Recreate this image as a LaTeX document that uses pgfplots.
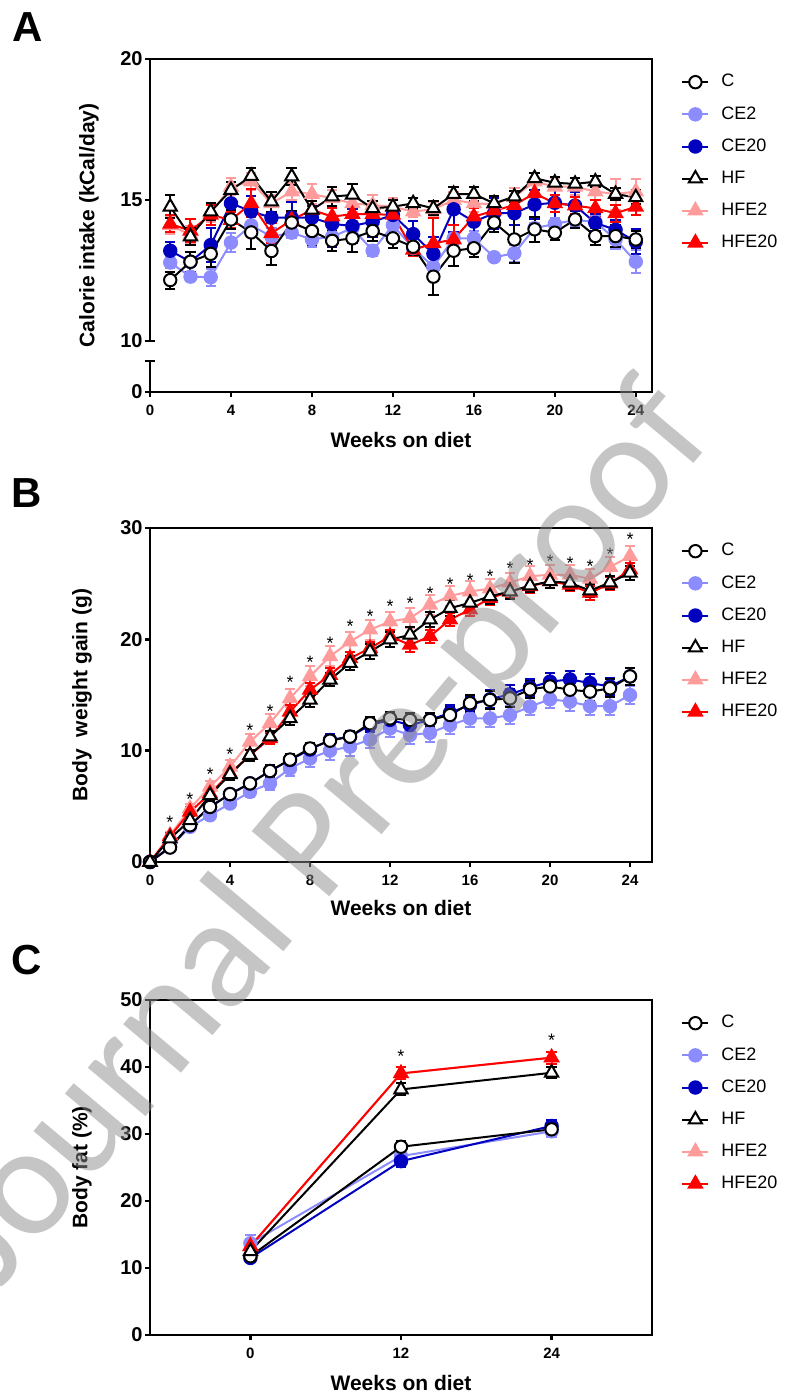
\documentclass[border=0pt]{standalone}
\usepackage{fontspec}
\setmainfont{Liberation Sans}
\newfontfamily\wmfont{Carlito}
\usepackage{pgfplots}
\usepackage{pgfplotstable}
\pgfplotsset{compat=1.18}

\definecolor{cLB}{RGB}{140,140,255}
\definecolor{cDB}{RGB}{0,0,190}
\definecolor{cPK}{RGB}{255,155,155}
\definecolor{cRD}{RGB}{255,0,0}

% calorie intake (kCal/day), mean and error per group
\pgfplotstableread{
w  C     Ce   CEt   CEte CEv   CEve HF    HFe  HFt   HFte HFv   HFve
1  12.16 0.30 12.78 0.20 13.20 0.30 14.76 0.40 14.10 0.30 14.15 0.30
2  12.81 0.35 12.28 0.15 12.81 0.35 13.70 0.30 13.76 0.30 13.91 0.40
3  13.09 0.45 12.26 0.30 13.40 0.60 14.59 0.30 14.53 0.30 14.47 0.35
4  14.31 0.35 13.49 0.35 14.88 0.50 15.35 0.30 15.47 0.30 14.29 0.30
5  13.85 0.60 14.10 0.30 14.60 0.55 15.85 0.30 15.65 0.30 14.88 0.50
6  13.19 0.50 13.70 0.30 14.37 0.55 14.94 0.35 14.88 0.30 13.82 0.35
7  14.20 0.40 13.84 0.20 14.37 0.55 15.83 0.30 15.30 0.30 14.29 0.30
8  13.90 0.50 13.60 0.25 14.37 0.40 14.65 0.30 15.21 0.35 14.65 0.30
9  13.55 0.35 13.70 0.25 14.15 0.80 15.12 0.35 15.06 0.30 14.41 0.30
10 13.64 0.50 14.00 0.25 14.08 0.60 15.18 0.40 14.88 0.30 14.50 0.30
11 13.90 0.35 13.20 0.20 14.23 0.55 14.70 0.25 14.82 0.35 14.50 0.30
12 13.64 0.35 14.11 0.20 14.47 0.25 14.76 0.25 14.76 0.30 14.47 0.30
13 13.34 0.30 13.29 0.20 13.79 0.45 14.88 0.20 14.59 0.20 13.23 0.20
14 12.28 0.65 12.63 0.40 13.09 0.60 14.70 0.25 14.67 0.25 13.46 0.90
15 13.20 0.55 13.64 0.20 14.67 0.80 15.21 0.25 15.00 0.30 13.60 0.50
16 13.29 0.30 13.64 0.25 14.23 0.70 15.21 0.25 14.88 0.30 14.41 0.30
17 14.20 0.35 12.97 0.15 14.53 0.55 14.88 0.25 14.85 0.30 14.62 0.30
18 13.60 0.85 13.11 0.30 14.53 0.40 15.12 0.20 15.12 0.30 14.82 0.30
19 13.96 0.45 14.00 0.20 14.84 0.50 15.77 0.20 15.65 0.30 15.24 0.30
20 13.84 0.25 14.15 0.20 14.90 0.60 15.61 0.20 15.47 0.30 14.88 0.30
21 14.31 0.30 14.29 0.20 14.80 0.50 15.57 0.20 15.47 0.30 14.80 0.30
22 13.72 0.30 14.22 0.20 14.19 0.30 15.65 0.20 15.30 0.30 14.70 0.30
23 13.72 0.40 13.60 0.35 13.94 0.35 15.21 0.20 15.21 0.55 14.53 0.30
24 13.60 0.30 12.81 0.40 13.52 0.45 15.09 0.25 15.30 0.45 14.76 0.30
}\tA

% body weight gain (g)
\pgfplotstableread{
w  C     Ce   CEt   CEte CEv   CEve HF    HFe  HFt   HFte HFv   HFve
0  0     0    0     0    0     0    0     0    0     0    0     0
1  1.30  0.3  1.30  0.3  1.35  0.3  2.10  0.3  2.40  0.3  2.30  0.3
2  3.30  0.4  3.15  0.4  3.30  0.4  3.75  0.4  4.80  0.4  4.50  0.4
3  4.95  0.4  4.20  0.4  4.95  0.4  6.00  0.5  6.76  0.5  6.15  0.5
4  6.10  0.4  5.25  0.4  6.10  0.4  7.87  0.5  8.56  0.6  7.96  0.5
5  7.06  0.4  6.30  0.5  7.06  0.4  9.60  0.5  10.80 0.7  9.60  0.5
6  8.17  0.5  7.06  0.6  8.17  0.5  11.26 0.5  12.46 0.8  11.10 0.5
7  9.20  0.5  8.40  0.7  9.16  0.5  12.90 0.6  14.70 0.8  13.50 0.6
8  10.20 0.5  9.30  0.8  10.10 0.5  14.56 0.6  16.67 0.9  15.46 0.6
9  10.90 0.5  10.00 0.8  10.96 0.5  16.37 0.6  18.47 0.9  16.80 0.6
10 11.26 0.5  10.36 0.8  11.26 0.5  17.87 0.6  19.80 0.9  18.30 0.6
11 12.46 0.6  11.00 0.8  12.30 0.6  18.90 0.7  20.87 0.9  19.20 0.6
12 12.90 0.6  12.00 0.8  12.76 0.6  19.97 0.7  21.60 0.9  20.27 0.6
13 12.76 0.6  11.40 0.8  12.30 0.6  20.40 0.7  21.90 0.9  19.50 0.6
14 12.76 0.6  11.60 0.8  12.76 0.6  21.77 0.7  23.10 0.9  20.27 0.6
15 13.20 0.7  12.30 0.8  13.40 0.7  22.80 0.7  23.90 0.9  21.77 0.6
16 14.26 0.7  12.90 0.8  14.10 0.7  23.27 0.7  24.30 0.9  22.67 0.6
17 14.56 0.8  12.90 0.8  14.62 0.8  23.87 0.7  24.56 0.9  23.70 0.6
18 14.70 0.8  13.20 0.8  15.07 0.8  24.30 0.7  25.10 0.9  24.30 0.6
19 15.50 0.8  13.96 0.8  15.67 0.8  24.83 0.6  25.67 0.9  24.77 0.6
20 15.77 0.8  14.62 0.8  16.20 0.8  25.20 0.6  25.80 0.9  25.20 0.6
21 15.47 0.8  14.40 0.8  16.40 0.8  25.07 0.6  25.80 0.9  24.90 0.6
22 15.30 0.8  14.00 0.8  16.07 0.8  24.38 0.6  25.43 0.9  24.17 0.6
23 15.60 0.8  14.00 0.8  15.77 0.8  25.10 0.6  26.50 0.9  25.00 0.6
24 16.67 0.8  15.00 0.8  16.67 0.8  25.97 0.6  27.47 0.9  26.27 0.6
}\tB

\pgfplotstableread{
w  s
1  3.9
2  6.0
3  8.2
4  10.06
5  12.2
6  13.9
7  16.5
8  18.26
9  20.0
10 21.56
11 22.46
12 23.33
13 23.6
14 24.5
15 25.3
16 25.67
17 26.0
18 26.7
19 27.0
20 27.4
21 27.2
22 26.9
23 28.0
24 29.3
}\sB

% body fat (%)
\pgfplotstableread{
w  C     Ce   CEt   CEte CEv   CEve HF    HFe  HFt   HFte HFv   HFve
0  11.75 0.4  13.70 1.3  11.50 0.5  12.50 0.5  13.25 0.8  13.25 0.8
12 28.10 0.8  26.70 0.9  25.95 0.9  36.65 0.9  39.04 0.9  39.04 0.9
24 30.70 0.8  30.40 0.9  31.20 0.9  39.14 0.8  41.40 0.9  41.40 0.9
}\tC

\pgfplotstableread{
w  s
12 42.2
24 44.6
}\sC

\newcommand{\lblfont}{\bfseries\fontsize{10.5}{12}\selectfont}

\pgfplotsset{
  dat/.style={line width=1pt, mark size=3.1pt,
    error bars/y dir=both, error bars/y explicit,
    error bars/error bar style={line width=1pt, solid},
    error bars/error mark options={rotate=90, mark size=2.6pt, line width=1pt}},
  sC/.style={dat, black, mark=*, mark options={fill=white, solid}},
  sCE2/.style={dat, cLB, mark=*, mark options={solid}},
  sCE20/.style={dat, cDB, mark=*, mark options={solid}},
  sHF/.style={dat, black, mark=triangle*, mark size=3.8pt, mark options={fill=white, solid}},
  sHFE2/.style={dat, cPK, mark=triangle*, mark size=3.8pt, mark options={solid}},
  sHFE20/.style={dat, cRD, mark=triangle*, mark size=3.8pt, mark options={solid}},
  stars/.style={only marks, mark=text, text mark={*}, text mark as node=true,
    text mark style={font=\fontsize{9}{9}\selectfont, inner sep=0pt, yshift=-2pt}, black},
  panel/.style={
    scale only axis, width=251pt, anchor=north west,
    axis line style={line width=1.2pt},
    tick style={line width=1.2pt, black},
    tick align=outside, tick pos=left,
    major tick length=2.5pt,
    /pgf/number format/assume math mode=true,
    yticklabel style={font=\bfseries\fontsize{10}{12}\selectfont, inner sep=1pt},
    xticklabel style={font=\bfseries\fontsize{7.5}{8}\selectfont, inner sep=1pt, yshift=-3pt},
    xlabel={Weeks on diet},
    clip=false,
    legend cell align=left,
    legend image code/.code={\draw[mark repeat=2, mark phase=2, ##1]
      plot coordinates {(0pt,0pt) (6.5pt,0pt) (13pt,0pt)};},
    legend style={at={(axis description cs:1,1)}, anchor=north west,
      xshift=11.5pt, yshift=-3.5pt, draw=none, fill=none,
      font=\fontsize{9}{10}\selectfont, row sep=4.3pt,
      /tikz/every odd column/.append style={column sep=4pt}},
  },
}

\newcommand{\legendsix}{%
  \addlegendimage{sC}\addlegendimage{sCE2}\addlegendimage{sCE20}%
  \addlegendimage{sHF}\addlegendimage{sHFE2}\addlegendimage{sHFE20}%
  \legend{C,CE2,CE20,HF,HFE2,HFE20}}

\newcommand{\sixplots}[1]{%
  \addplot[sCE2, forget plot] table[x=w, y=CEt, y error=CEte] {#1};
  \addplot[sHFE2, forget plot] table[x=w, y=HFt, y error=HFte] {#1};
  \addplot[sCE20, forget plot] table[x=w, y=CEv, y error=CEve] {#1};
  \addplot[sHFE20, forget plot] table[x=w, y=HFv, y error=HFve] {#1};
  \addplot[sC, forget plot] table[x=w, y=C, y error=Ce] {#1};
  \addplot[sHF, forget plot] table[x=w, y=HF, y error=HFe] {#1};}

\begin{document}
\begin{tikzpicture}
\useasboundingbox (0pt,0pt) rectangle (392.5pt,-698pt);

\node[font=\bfseries\fontsize{21}{21}\selectfont] at (14pt,-13.5pt) {A};
\node[font=\bfseries\fontsize{21}{21}\selectfont] at (13.5pt,-246.5pt) {B};
\node[font=\bfseries\fontsize{21}{21}\selectfont] at (13.5pt,-480pt) {C};

% ---- A: calorie intake, broken y axis
\begin{axis}[panel, at={(75pt,-29.5pt)}, height=166.5pt,
  xmin=0, xmax=24.8, ymin=8.19, ymax=20,
  xtick={0,4,...,24},
  ytick={8.19,10,15,20}, yticklabels={0,10,15,20},
  ylabel={Calorie intake (kCal/day)},
  every axis y label/.style={at={(axis description cs:-0.1215,0.5)}, rotate=90, anchor=center, font=\lblfont},
  every axis x label/.style={at={(axis description cs:0.5,0)}, anchor=center, yshift=-24pt, font=\lblfont},
]
\legendsix
\sixplots{\tA}
\fill[white] ([xshift=-1.6pt]axis cs:0,9.29) rectangle ([xshift=1.6pt,yshift=-0.7pt]axis cs:0,10);
\draw[line width=1.2pt] ([xshift=-2.7pt]axis cs:0,10) -- ([xshift=2.7pt]axis cs:0,10);
\draw[line width=1.2pt] ([xshift=-2.7pt]axis cs:0,9.29) -- ([xshift=2.7pt]axis cs:0,9.29);
\end{axis}

% ---- B: body weight gain
\begin{axis}[panel, at={(75pt,-264pt)}, height=167pt,
  xmin=0, xmax=25.1, ymin=0, ymax=30,
  xtick={0,4,...,24}, ytick={0,10,20,30},
  ylabel={Body~~weight gain (g)},
  every axis y label/.style={at={(axis description cs:-0.1355,0.5)}, rotate=90, anchor=center, font=\lblfont},
  every axis x label/.style={at={(axis description cs:0.5,0)}, anchor=center, yshift=-23pt, font=\lblfont},
]
\legendsix
\sixplots{\tB}
\addplot[stars, forget plot] table[x=w, y=s] {\sB};
\end{axis}

% ---- C: body fat
\begin{axis}[panel, at={(75pt,-500pt)}, height=167.5pt,
  xmin=-8, xmax=32, ymin=0, ymax=50,
  xtick={0,12,24}, ytick={0,10,...,50},
  ylabel={Body fat (\%)},
  every axis y label/.style={at={(axis description cs:-0.1355,0.5)}, rotate=90, anchor=center, font=\lblfont},
  every axis x label/.style={at={(axis description cs:0.5,0)}, anchor=center, yshift=-24pt, font=\lblfont},
]
\legendsix
\sixplots{\tC}
\addplot[stars, forget plot] table[x=w, y=s] {\sC};
\end{axis}

% watermark of the source
\node[rotate=50, text=black!45, text opacity=0.5, font=\wmfont\fontsize{79}{80}\selectfont]
  at (163pt,-418pt) {Journal Pre-proof};
\end{tikzpicture}
\end{document}
